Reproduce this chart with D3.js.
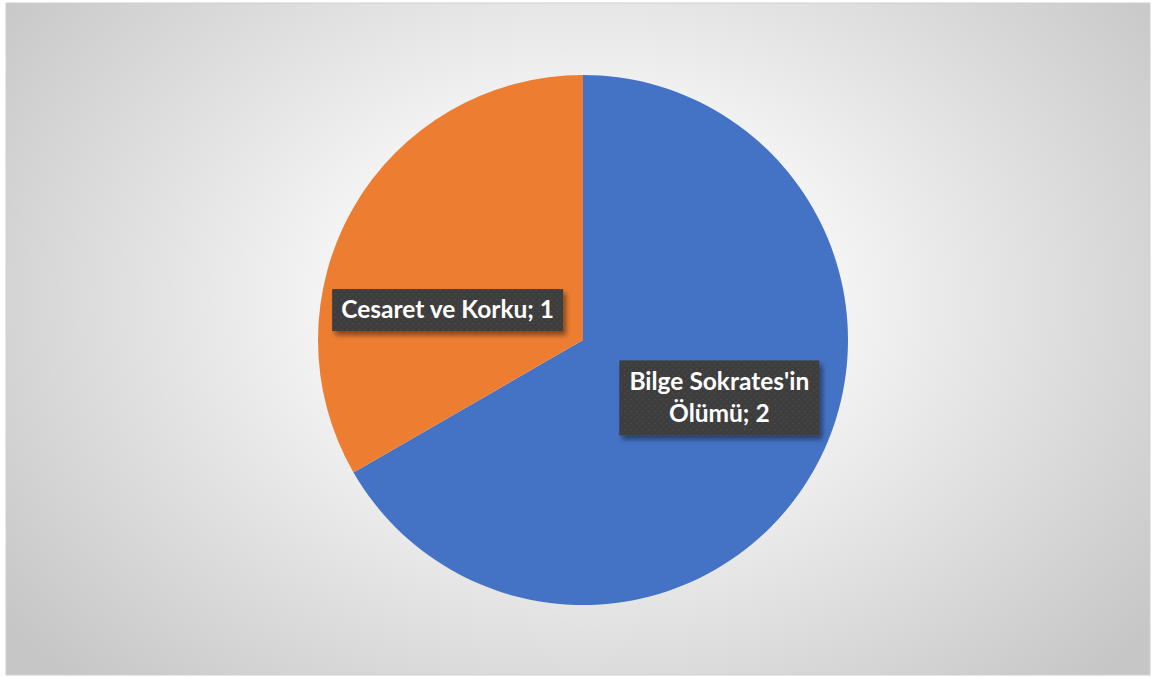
<!DOCTYPE html>
<html><head><meta charset="utf-8">
<script src="https://cdn.jsdelivr.net/npm/d3@7"></script>
<style>html,body{margin:0;padding:0;background:#fff;}svg{display:block;}</style>
</head><body>
<svg id="c" width="1152" height="677"></svg>
<script>
const categories = ["Bilge Sokrates'in Ölümü", "Cesaret ve Korku"];
const values = [2, 1];
const labelLines = [["Bilge Sokrates'in", "Ölümü; 2"], ["Cesaret ve Korku; 1"]];
const colors = ["#4472C4", "#ED7D31"];

const W = 1152, H = 677;
const svg = d3.select("#c");
const defs = svg.append("defs");

const rg = defs.append("radialGradient").attr("id", "bg")
  .attr("gradientUnits", "userSpaceOnUse")
  .attr("cx", 583).attr("cy", 300).attr("r", 720)
  .attr("gradientTransform", "translate(583,300) scale(1,0.75) translate(-583,-300)");
rg.append("stop").attr("offset", "0").attr("stop-color", "#ffffff");
rg.append("stop").attr("offset", "0.35").attr("stop-color", "#f4f4f4");
rg.append("stop").attr("offset", "1").attr("stop-color", "#c6c6c6");

const pat = defs.append("pattern").attr("id", "dots").attr("patternUnits", "userSpaceOnUse")
  .attr("width", 6).attr("height", 6);
pat.append("rect").attr("width", 6).attr("height", 6).attr("fill", "#3c3c3c");
pat.append("circle").attr("cx", 1.5).attr("cy", 1.5).attr("r", 0.9).attr("fill", "#4c4c4c");
pat.append("circle").attr("cx", 4.5).attr("cy", 4.5).attr("r", 0.9).attr("fill", "#474747");

const sh = defs.append("filter").attr("id", "sh").attr("x", "-20%").attr("y", "-40%").attr("width", "140%").attr("height", "180%");
sh.append("feDropShadow").attr("dx", 3).attr("dy", 4).attr("stdDeviation", 2.5)
  .attr("flood-color", "#000").attr("flood-opacity", 0.45);

svg.append("rect").attr("x", 6).attr("y", 3).attr("width", 1144).attr("height", 672)
  .attr("fill", "url(#bg)").attr("stroke", "#d0d0d0").attr("stroke-width", 1);

const cx = 583, cy = 340, r = 265;
const pie = d3.pie().sort(null).value(d => d.v);
const arcs = pie(values.map((v, i) => ({v, i})));
const arc = d3.arc().innerRadius(0).outerRadius(r);
const g = svg.append("g").attr("transform", `translate(${cx},${cy})`);
g.selectAll("path").data(arcs).join("path").attr("d", arc).attr("fill", d => colors[d.data.i]);

const labelArc = d3.arc().innerRadius(r * 0.52).outerRadius(r * 0.52);
const boxes = [{w: 200, h: 75}, {w: 231, h: 42}];
const offsets = [[17, -11], [-16, 39]];
arcs.forEach((a, k) => {
  const c = labelArc.centroid(a);
  const bx = c[0] + offsets[k][0], by = c[1] + offsets[k][1];
  const b = boxes[k];
  const lg = g.append("g").attr("transform", `translate(${bx},${by})`);
  lg.append("rect").attr("x", -b.w/2).attr("y", -b.h/2).attr("width", b.w).attr("height", b.h)
    .attr("fill", "url(#dots)").attr("filter", "url(#sh)");
  const lines = labelLines[k];
  const lh = 32;
  lines.forEach((t, j) => {
    lg.append("text").attr("x", 0).attr("y", (j - (lines.length - 1) / 2) * lh + 8)
      .attr("text-anchor", "middle").attr("fill", "#fff")
      .attr("font-family", "Lato, 'Open Sans', sans-serif").attr("font-weight", "bold")
      .attr("font-size", 24.5).text(t);
  });
});
</script>
</body></html>
